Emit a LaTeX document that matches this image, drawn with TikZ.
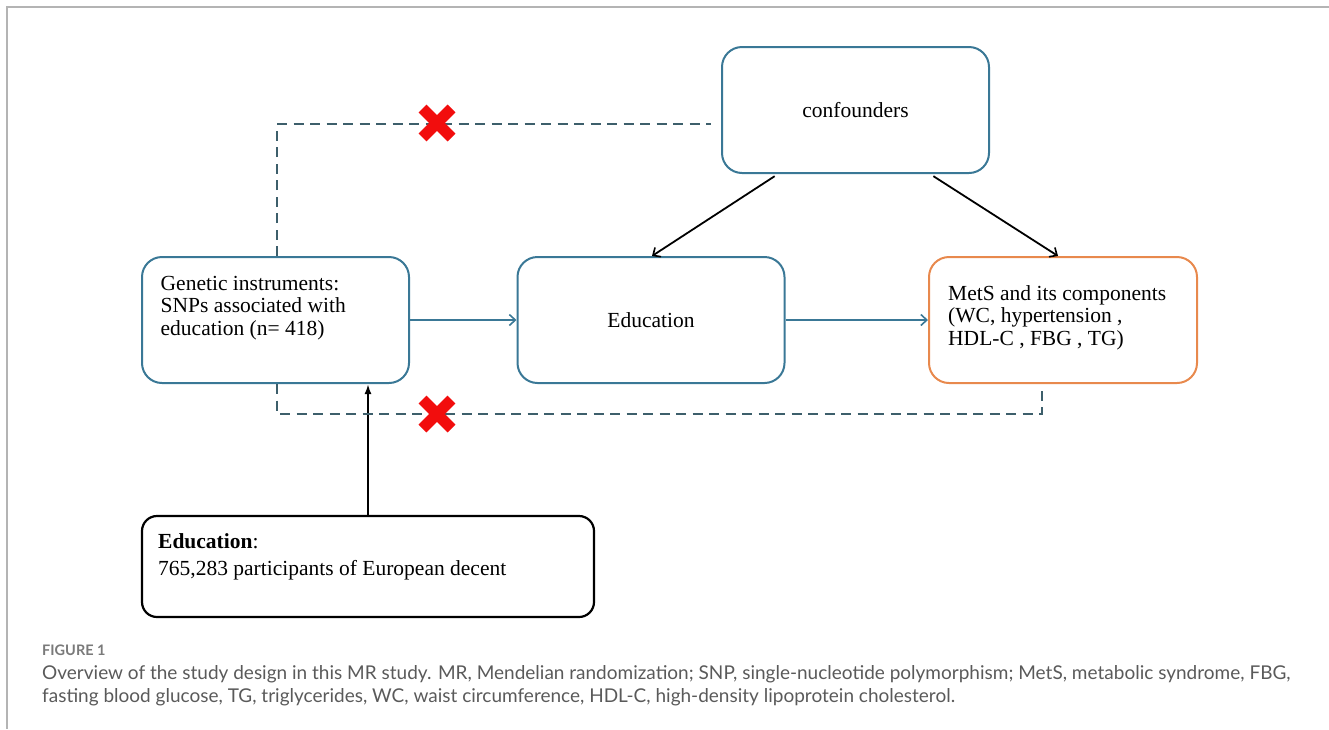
\documentclass[tikz,border=0pt]{standalone}
\usepackage{fontspec}
\setmainfont{Liberation Serif}
\newfontfamily\capfont{Lato}
\usetikzlibrary{arrows.meta,shapes.misc}
\definecolor{boxblue}{HTML}{3A7896}
\definecolor{boxorange}{HTML}{E8894D}
\definecolor{dashcol}{HTML}{3D5F6B}
\definecolor{xred}{HTML}{F20D0D}
\definecolor{framegray}{HTML}{B4B4B4}
\definecolor{capgray}{HTML}{5A5A5A}
\definecolor{figgray}{HTML}{7A7A7A}
\begin{document}
\begin{tikzpicture}[x=1pt,y=-1pt,
  boxbase/.style={line width=2pt, rounded corners=20pt, minimum width=267pt, minimum height=126pt, inner sep=0pt, font=\fontsize{21.5}{22.5}\selectfont},
  bluebox/.style={boxbase, draw=boxblue},
  orangebox/.style={boxbase, draw=boxorange},
  blackbox/.style={line width=2.2pt, draw=black, rounded corners=15pt, minimum width=452pt, minimum height=101pt, inner sep=0pt},
  txt/.style={align=left, inner sep=0pt, anchor=base west, font=\fontsize{21.5}{22.5}\selectfont},
  bluearrow/.style={draw=boxblue, line width=1.8pt, -{Straight Barb[length=6pt,width=11pt,line width=1.6pt]}},
  blackarrow/.style={draw=black, line width=1.8pt, -{Straight Barb[length=6pt,width=11pt,line width=1.6pt]}},
  uparrow/.style={draw=black, line width=2pt, -{Latex[length=10pt,width=7pt]}},
  dashline/.style={draw=dashcol, line width=1.8pt, dash pattern=on 10pt off 6.5pt},
  redx/.style={cross out, draw=xred, line width=11pt, minimum size=29pt, inner sep=0pt, outer sep=0pt},
]
\useasboundingbox (0,0) rectangle (1329,729);
% frame
\coordinate (fr0) at (6.7,6.7);
\coordinate (fr1) at (1329,6.7);
\coordinate (fr2) at (6.7,729);
\draw[framegray, line width=1.6pt] (fr1) -- (fr0) -- (fr2);

% boxes
\node[bluebox] (conf) at (855.5,110) {confounders};
\node[bluebox] (gen) at (275.5,320) {};
\node[bluebox] (edu) at (651,320) {Education};
\node[orangebox, minimum width=268pt] (mets) at (1063,320) {};
\node[blackbox] (src) at (368,566.5) {};

% box texts (anchor at baseline of last line)
\node[txt] (gentxt) at (160.5,335) {Genetic instruments:\\SNPs associated with\\education (n= 418)};
\node[txt] (metstxt) at (948,345) {MetS and its components\\(WC, hypertension ,\\HDL-C , FBG , TG)};
\node[txt, font=\fontsize{21.5}{27}\selectfont] (srctxt) at (158,575) {\textbf{Education}:\\765,283 participants of European decent};

% helper coordinates
\coordinate (dl) at (277,124);
\coordinate (db) at (277,414);
\coordinate (dr) at (1042,414);
\coordinate (a1s) at (778,174);
\coordinate (a1e) at (652,257);
\coordinate (a2s) at (930,174);
\coordinate (a2e) at (1058,257);
\coordinate (up) at (368,0);

% arrows
\draw[bluearrow] (gen.east) -- (edu.west);
\draw[bluearrow] (edu.east) -- (mets.west);
\draw[blackarrow, shorten <=4pt] (conf.south -| a1s) -- (edu.north -| a1e);
\draw[blackarrow, shorten <=4pt] (conf.south -| a2s) -- (mets.north -| a2e);
\draw[uparrow] (src.north -| up) -- (gen.south -| up);

% dashed no-path lines
\draw[dashline, shorten >=10pt] (gen.north -| dl) -- (dl) -- (dl -| conf.west);
\draw[dashline, shorten >=5pt] (gen.south -| db) -- (db) -- (dr) -- (mets.south -| dr);

% red crosses
\node[redx] (x1) at (437,123) {};
\node[redx] (x2) at (437,414) {};

% caption
\node[anchor=base west, inner sep=0pt, font=\capfont\bfseries\fontsize{14.5}{15}\selectfont, text=figgray] (figlbl) at (42,655) {FIGURE 1};
\node[anchor=base west, inner sep=0pt, align=left, font=\capfont\fontsize{19}{23.5}\selectfont, text=capgray] (caption) at (42,702.5) {Overview of the study design in this MR study. MR, Mendelian randomization; SNP, single-nucleotide polymorphism; MetS, metabolic syndrome, FBG,\\fasting blood glucose, TG, triglycerides, WC, waist circumference, HDL-C, high-density lipoprotein cholesterol.};
\end{tikzpicture}
\end{document}
